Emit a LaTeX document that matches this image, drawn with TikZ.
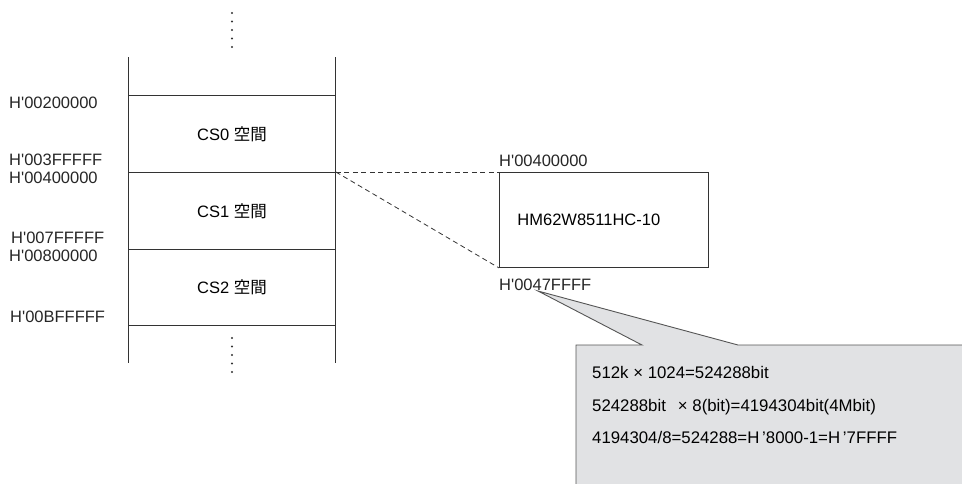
\documentclass[tikz,border=0pt]{standalone}
\usepackage{fontspec}
\setmainfont{Liberation Sans}
\newfontfamily\cjk{Noto Sans CJK JP}
\usetikzlibrary{positioning,calc}
\definecolor{linegray}{HTML}{333333}
\definecolor{notefill}{HTML}{E1E2E4}
\definecolor{noteline}{HTML}{555555}
\newcommand\hx{H\textquotesingle}

\begin{document}
\begin{tikzpicture}[
  x=1pt, y=-1pt,
  font=\fontsize{16.5}{19}\selectfont,
  seg/.style={draw=linegray, line width=0.9pt, minimum width=207pt, inner sep=0pt, anchor=north west},
  addr/.style={anchor=west, inner sep=0pt, text=black!85},
  chipbox/.style={draw=linegray, line width=0.9pt, text width=173pt, align=left, inner xsep=18pt, minimum height=95pt, anchor=north west, inner ysep=0pt},
  link/.style={dash pattern=on 5pt off 3.5pt, line width=0.8pt, linegray}
]
\clip (0,0) rectangle (962,483);

% memory map
\node[seg, minimum height=77pt] (cs0) at (128,95) {CS0 {\cjk 空間}};
\node[seg, minimum height=77pt] (cs1) at (128,172) {CS1 {\cjk 空間}};
\node[seg, minimum height=76pt] (cs2) at (128,249) {CS2 {\cjk 空間}};
\draw[linegray, line width=0.9pt] (cs0.north west) -- ++(0,-38) (cs0.north east) -- ++(0,-38);
\draw[linegray, line width=0.9pt] (cs2.south west) -- ++(0,37) (cs2.south east) -- ++(0,37);
\foreach \i in {0,...,4} {
  \fill[linegray] (232,13+8.5*\i) circle (1.2);
  \fill[linegray] (232,338+8.5*\i) circle (1.2);
}

% addresses
\node[addr] (a200) at (9,103) {\hx00200000};
\node[addr] (a3ff) at (9,160) {\hx003FFFFF};
\node[addr] (a400) at (9,178) {\hx00400000};
\node[addr] (a7ff) at (11,238) {\hx007FFFFF};
\node[addr] (a800) at (9,256) {\hx00800000};
\node[addr] (abff) at (10,317) {\hx00BFFFFF};

% SRAM
\node[chipbox] (chip) at (499,172) {HM62W8511HC-10};
\node[addr] (c400) at (499,161) {\hx00400000};
\node[addr] (c47f) at (499,285) {\hx0047FFFF};
\draw[link] (cs1.north east) -- (chip.north west);
\draw[link] (cs1.north east) -- (chip.south west);

% note
\coordinate (tip) at (538,291);
\filldraw[fill=notefill, draw=noteline, line width=0.9pt]
  (576,345) -- (642,345) -- (tip) -- (738,345) -- (980,345) -- (980,500) -- (576,500) -- cycle;
\node[anchor=west, align=left, inner sep=0pt, font=\fontsize{16.8}{32.5}\selectfont] (calc) at (592,405)
  {512k × 1024=524288bit\\
   524288bit\hspace{12pt}× 8(bit)=4194304bit(4Mbit)\\
   4194304/8=524288=H\,'8000-1=H\,'7FFFF};
\end{tikzpicture}
\end{document}
